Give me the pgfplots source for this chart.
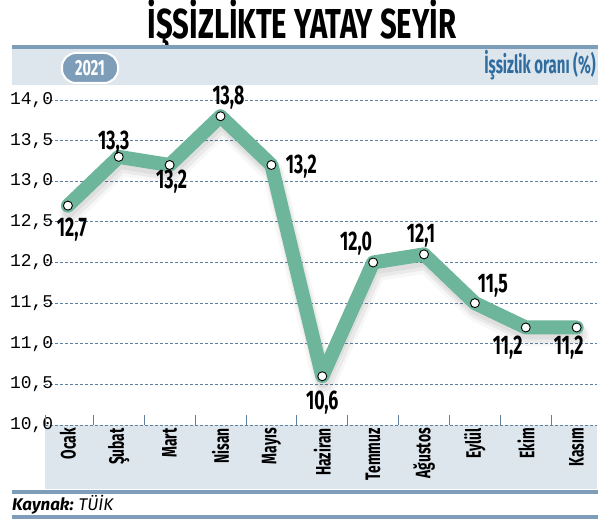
\documentclass[border=0pt]{standalone}
\usepackage{fontspec}
\usepackage{pgfplots}
\usepackage{pgfplotstable}
\pgfplotsset{compat=1.18}
\setmainfont{Fira Sans}
\setmonofont{Liberation Mono}
\newfontfamily\narrow[FakeStretch=0.66]{Fira Sans}
\newfontfamily\titlefont[FakeStretch=0.7]{Fira Sans}
\newfontfamily\headfont[FakeStretch=0.6]{Fira Sans}

\definecolor{bandline}{HTML}{7D9DB9}
\definecolor{bandfill}{HTML}{DDE5ED}
\definecolor{linegreen}{HTML}{6DB59B}
\definecolor{gridblue}{HTML}{5F7F9F}
\definecolor{textblue}{HTML}{2F6CA0}

% month index, rate, label offset (bp)
\pgfplotstableread{
x y dx dy lab
0 12.7 4 -24 12,7
1 13.3 -5 14 13,3
2 13.2 2 -17 13,2
3 13.8 8 19 13,8
4 13.2 30 -2 13,2
5 10.6 0 -26 10,6
6 12.0 -17 19 12,0
7 12.1 -3 19 12,1
8 11.5 18 17 11,5
9 11.2 -18 -20 11,2
10 11.2 -8 -20 11,2
}\ratetable

\begin{document}
\begin{tikzpicture}
\path[use as bounding box] (0bp,0bp) rectangle (604bp,524bp);

% title and header band
\node[font=\titlefont\bfseries\fontsize{42}{42}\selectfont] at (302bp,500bp) {İŞSİZLİKTE YATAY SEYİR};
\fill[bandline] (12bp,475bp) rectangle (598bp,479bp);
\fill[bandfill] (12bp,439bp) rectangle (598bp,475bp);
\node[fill=bandline, draw=white, line width=2bp, rounded corners=14bp,
      minimum width=56bp, minimum height=30bp, inner sep=0pt, text=white,
      font=\narrow\bfseries\fontsize{22}{22}\selectfont] at (90bp,456bp) {2021};
\node[anchor=east, inner sep=0pt, text=textblue,
      font=\headfont\bfseries\fontsize{25}{25}\selectfont] at (596bp,459bp) {İşsizlik oranı (\%)};

% month band and footer
\fill[bandfill] (45bp,35bp) rectangle (597bp,99bp);
\fill[bandline] (12bp,30bp) rectangle (598bp,34bp);
\node[anchor=west, inner sep=0pt, font=\fontsize{17}{17}\selectfont\itshape] at (12bp,19bp)
  {\bfseries Kaynak: \mdseries TÜİK};
\fill[bandline] (12bp,5bp) rectangle (598bp,9bp);

\coordinate (axorigin) at (45bp,99bp);
\begin{axis}[
  at={(axorigin)}, anchor=south west,
  scale only axis,
  width=552bp, height=325bp,
  xmin=-0.45, xmax=10.4,
  ymin=10, ymax=14,
  clip=false,
  axis line style={draw=none},
  ymajorgrids=true,
  grid style={gridblue, line width=0.8bp, dash pattern=on 3bp off 2bp},
  major tick length=0pt,
  xtick pos=bottom, ytick pos=left,
  tick style={gridblue, line width=0.8bp},
  ytick={10,10.5,11,11.5,12,12.5,13,13.5,14},
  yticklabels={{10,0},{10,5},{11,0},{11,5},{12,0},{12,5},{13,0},{13,5},{14,0}},
  yticklabel style={font=\ttfamily\fontsize{18}{18}\selectfont, anchor=west, xshift=-35bp, inner sep=0pt},
  xtick={0,...,10},
  xticklabels={Ocak,Şubat,Mart,Nisan,Mayıs,Haziran,Temmuz,Ağustos,Eylül,Ekim,Kasım},
  xticklabel style={rotate=90, anchor=east, inner sep=3bp,
                    font=\narrow\bfseries\fontsize{21}{21}\selectfont},
  extra x ticks={-0.45,0.5,1.5,2.5,3.5,4.5,5.5,6.5,7.5,8.5,9.5},
  extra x tick labels={},
  extra x tick style={major tick length=10bp, tick align=inside},
]
% soft shadow under the line
\addplot[no marks, black, opacity=0.03, line width=22bp, line join=round, line cap=round, xshift=2bp, yshift=-8bp]
  table[x=x, y=y] {\ratetable};
\addplot[no marks, black, opacity=0.05, line width=17bp, line join=round, line cap=round, xshift=2bp, yshift=-7bp]
  table[x=x, y=y] {\ratetable};
\addplot[no marks, black, opacity=0.05, line width=12bp, line join=round, line cap=round, xshift=1bp, yshift=-6bp]
  table[x=x, y=y] {\ratetable};
% main line
\addplot[linegreen, line width=14bp, line join=round, line cap=round,
         mark=*, mark size=4.5bp, mark options={fill=white, draw=black, line width=0.9bp}]
  table[x=x, y=y] {\ratetable};
% value labels
\addplot[draw=none, mark=none,
  point meta=explicit symbolic,
  visualization depends on={\thisrow{dx} \as \dx},
  visualization depends on={\thisrow{dy} \as \dy},
  nodes near coords,
  nodes near coords style={anchor=center, xshift=\dx bp, yshift=\dy bp, inner sep=0pt,
                           font=\narrow\bfseries\fontsize{27}{27}\selectfont}]
  table[x=x, y=y, meta=lab] {\ratetable};
\end{axis}
\end{tikzpicture}
\end{document}
